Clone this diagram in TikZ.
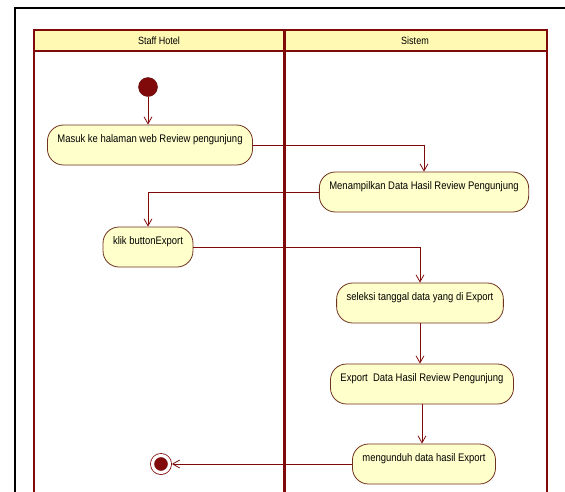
\documentclass[tikz,border=0pt]{standalone}
\usepackage{fontspec}
\setmainfont{Liberation Sans}[FakeStretch=0.86]
\usetikzlibrary{arrows.meta}
\definecolor{bordeaux}{RGB}{128,10,10}
\definecolor{brun}{RGB}{110,50,30}
\definecolor{creme}{RGB}{255,255,204}
\definecolor{jaune}{RGB}{255,249,180}

\begin{document}
\begin{tikzpicture}[x=1pt, y=-1pt,
    activite/.style={draw=brun, fill=creme, line width=0.8pt, rounded corners=16pt, inner xsep=10pt, inner ysep=4pt, text height=13pt, text depth=19pt, font=\fontsize{11}{13}\selectfont},
    titre/.style={font=\fontsize{10.5}{12}\selectfont},
    debut/.style={circle, draw=bordeaux!70!black, fill=bordeaux, minimum size=19pt, inner sep=0pt},
    fin/.style={circle, draw=bordeaux, fill=bordeaux, line width=0.8pt, double=white, double distance=3.2pt, minimum size=17pt, inner sep=0pt, outer sep=2.4pt},
    fleche/.style={draw=bordeaux, line width=0.8pt, -{Straight Barb[length=7pt, width=8pt]}}]
    \useasboundingbox (0,0) rectangle (565,491);
    \clip (0,0) rectangle (565,491);
    % Cadre
    \draw[line width=1.6pt] (15,8) rectangle (580,510);
    % Couloirs
    \fill[jaune] (34,30) rectangle (547,51);
    \draw[bordeaux, line width=1.5pt] (34,30) rectangle (547,510);
    \draw[bordeaux, line width=1.5pt] (34,51) -- (547,51);
    \draw[bordeaux, line width=3pt] (284,30) -- (284,510);
    \node[titre] (staff)  at (159,41) {Staff Hotel};
    \node[titre] (sistem) at (415,41) {Sistem};
    % Sommets
    \node[debut] (d) at (148,87) {};
    \node[activite] (masuk)  at (150,145) {Masuk ke halaman web Review pengunjung};
    \node[activite] (tampil) at (424,192) {Menampilkan Data Hasil Review Pengunjung};
    \node[activite] (klik)   at (148,247) {klik buttonExport};
    \node[activite] (seleksi) at (420,303) {seleksi tanggal data yang di Export};
    \node[activite] (export) at (422,384) {Export\ \ Data Hasil Review Pengunjung};
    \node[activite] (unduh)  at (424,464) {mengunduh data hasil Export};
    \node[fin] (f) at (161,464) {};
    % Chemin
    \draw[fleche] (d) -- (d |- masuk.north);
    \draw[fleche] (masuk.east) -| (tampil.north);
    \draw[fleche] (tampil.west) -| (klik.north);
    \draw[fleche] (klik.east) -| (seleksi.north);
    \draw[fleche] (seleksi.south) -- (seleksi.south |- export.north);
    \draw[fleche] (export.south) -- (export.south |- unduh.north);
    \draw[fleche] (unduh.west) -- (f);
\end{tikzpicture}
\end{document}
